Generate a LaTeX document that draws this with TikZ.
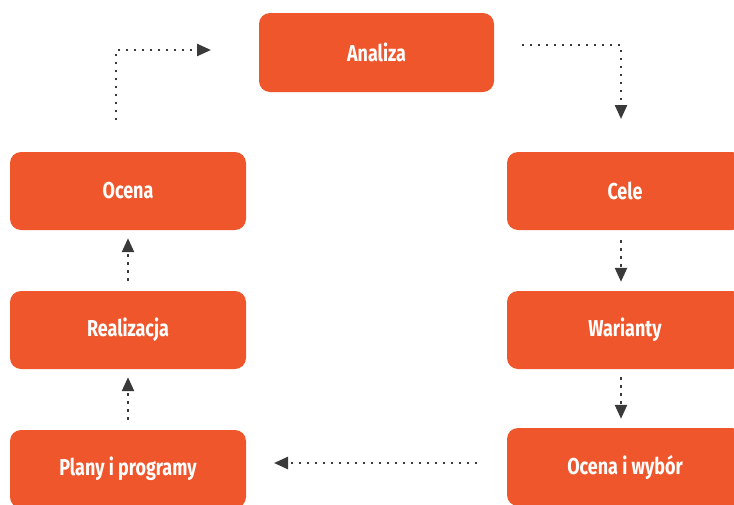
\documentclass[tikz,border=0pt]{standalone}
\usepackage{fontspec}
\setmainfont{Fira Sans}[FakeStretch=0.78]
\usetikzlibrary{arrows.meta}
\definecolor{boxred}{HTML}{F0562B}
\definecolor{conncol}{HTML}{3A3A3A}
\tikzset{
  stepbox/.style={draw=none, fill=boxred, rounded corners=11pt, minimum width=236pt, minimum height=78pt,
    text=white, font=\fontsize{23}{26}\selectfont\bfseries, inner sep=0pt},
  conn/.style={draw=conncol, line width=2.4pt, dash pattern=on 2.4pt off 5.6pt,
    -{Triangle[length=14pt,width=12pt]}},
}
\begin{document}
\begin{tikzpicture}[x=1pt,y=-1pt]
\clip (0,0) rectangle (734,504);
\fill[white] (0,0) rectangle (734,504);
\node[stepbox, minimum width=235pt, minimum height=79pt] (analiza) at (376.5,52.5) {Analiza};
\node[stepbox] (ocena) at (128,191) {Ocena};
\node[stepbox] (realizacja) at (128,330) {Realizacja};
\node[stepbox] (plany) at (128,469) {Plany i programy};
\node[stepbox] (cele) at (625,191) {Cele};
\node[stepbox] (warianty) at (625,330) {Warianty};
\node[stepbox] (wybor) at (625,467) {Ocena i wybór};
% top-left loop
\coordinate (tlA) at (116,120);
\coordinate (tlB) at (116,50);
\coordinate (tlC) at (211,50);
\draw[conn] (tlA) -- (tlB) -- (tlC);
% top-right
\coordinate (trA) at (522,45);
\coordinate (trB) at (621,45);
\coordinate (trC) at (621,119);
\draw[conn] (trA) -- (trB) -- (trC);
% right column
\draw[conn, shorten <=10pt, shorten >=9pt] (cele.south -| trB) -- (warianty.north -| trB);
\draw[conn, shorten <=8pt, shorten >=9pt] (warianty.south -| trB) -- (wybor.north -| trB);
% bottom
\coordinate (bA) at (477,463);
\coordinate (bB) at (274,463);
\draw[conn] (bA) -- (bB);
% left column
\draw[conn, shorten <=10pt, shorten >=8pt] (plany.north) -- (realizacja.south);
\draw[conn, shorten <=10pt, shorten >=8pt] (realizacja.north) -- (ocena.south);
\end{tikzpicture}
\end{document}
